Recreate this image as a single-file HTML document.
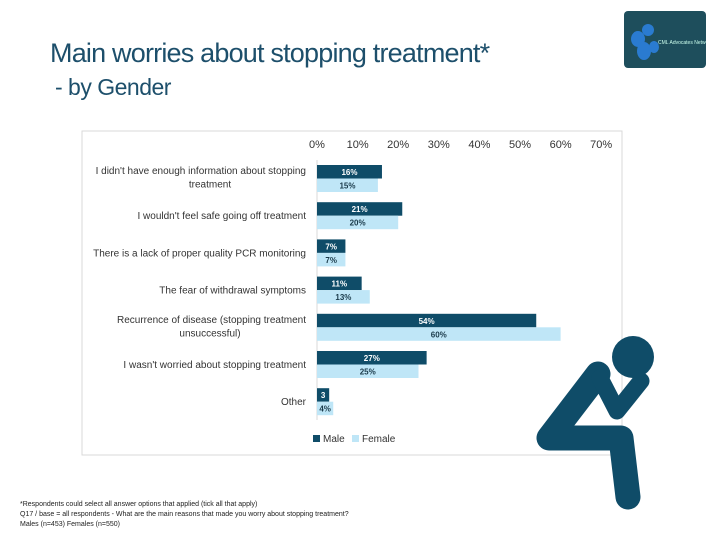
<!DOCTYPE html>
<html><head><meta charset="utf-8"><style>
body{margin:0;width:720px;height:540px;background:#fff;overflow:hidden;font-family:"Liberation Sans",sans-serif;position:relative}
.t{position:absolute;white-space:nowrap}
</style></head><body>
<div class="t" style="left:50px;top:38px;font-size:27px;color:#1d4f6b;letter-spacing:-0.8px">Main worries about stopping treatment*</div>
<div class="t" style="left:55px;top:74px;font-size:23px;color:#1d4f6b;letter-spacing:-0.5px">- by Gender</div>
<div style="position:absolute;left:624px;top:11px;width:82px;height:57px;background:#1e4e5c;border-radius:4px">
<svg width="82" height="57"><ellipse cx="14" cy="28" rx="7" ry="8" fill="#2a7bd0"/><ellipse cx="24" cy="19" rx="6" ry="6" fill="#2a7bd0"/><ellipse cx="20" cy="40" rx="7" ry="9" fill="#2a7bd0"/><ellipse cx="30" cy="36" rx="5" ry="6" fill="#2a7bd0"/><text x="34" y="33" font-size="5" fill="#cfe">CML Advocates Network</text></svg></div>
<svg id="c" width="720" height="540" style="position:absolute;left:0;top:0"></svg>
<div class="t" style="left:20px;top:500px;font-size:7px;line-height:10px;color:#222">*Respondents could select all answer options that applied (tick all that apply)<br>Q17 / base = all respondents - What are the main reasons that made you worry about stopping treatment?<br>Males (n=453) Females (n=550)</div>
<script>
const categories=[["I didn't have enough information about stopping","treatment"],["I wouldn't feel safe going off treatment"],["There is a lack of proper quality PCR monitoring"],["The fear of withdrawal symptoms"],["Recurrence of disease (stopping treatment","unsuccessful)"],["I wasn't worried about stopping treatment"],["Other"]];
const male=[16,21,7,11,54,27,3];
const female=[15,20,7,13,60,25,4];
const ticks=[0,10,20,30,40,50,60,70];
const NS="http://www.w3.org/2000/svg",svg=document.getElementById('c');
function el(t,a,p){const e=document.createElementNS(NS,t);for(const k in a)e.setAttribute(k,a[k]);(p||svg).appendChild(e);return e;}
const x=v=>317+v*4.06, rowY=i=>165+i*37.2;
const box=el('rect',{x:82,y:131,width:540,height:324,fill:'none',stroke:'#d9d9d9'});

// person icon
const fig=el('g',{fill:'none',stroke:'#0f4c68','stroke-linejoin':'round','stroke-linecap':'round'});

el('polyline',{points:'598,374 549,438 621,438 628,497','stroke-width':25},fig);
el('polyline',{points:'600,378 617,411 641,381','stroke-width':17},fig);
el('circle',{cx:633,cy:357,r:21,fill:'#0f4c68',stroke:'none'},fig);
ticks.forEach(t=>{const e=el('text',{x:x(t),y:148,'font-size':11,'text-anchor':'middle',fill:'#333'});e.textContent=t+'%';
});
el('line',{x1:317,x2:317,y1:160,y2:420,stroke:'#d9d9d9'});
categories.forEach((c,i)=>{const y=rowY(i);
 const lines=c;const cy=y+13;
 lines.forEach((l,j)=>{const ty=lines.length>1?cy-4+j*13.5:cy+4;
  const e=el('text',{x:lines.length>1&&j==1?210:306,y:ty,'font-size':10,'text-anchor':lines.length>1&&j==1?'middle':'end',fill:'#333'});e.textContent=l;
  });
 const bm=el('rect',{x:317,y:y,width:x(male[i])-317,height:13.5,fill:'#0f4c68'});
 
 const bf=el('rect',{x:317,y:y+13.5,width:x(female[i])-317,height:13.5,fill:'#bfe6f7'});
 
 const tm=el('text',{x:(317+x(male[i]))/2,y:y+10,'font-size':8,'font-weight':'bold','text-anchor':'middle',fill:'#fff'});tm.textContent=male[i]+(male[i]<5?'':'%');
 
 const tf=el('text',{x:(317+x(female[i]))/2,y:y+23.5,'font-size':8,'font-weight':'bold','text-anchor':'middle',fill:'#1a3a4a'});tf.textContent=female[i]+'%';
 
});
const lg=el('g',{});
el('rect',{x:313,y:435,width:7,height:7,fill:'#0f4c68'},lg);
let t1=el('text',{x:323,y:442,'font-size':10,fill:'#333'},lg);t1.textContent='Male';
el('rect',{x:352,y:435,width:7,height:7,fill:'#bfe6f7'},lg);
let t2=el('text',{x:362,y:442,'font-size':10,fill:'#333'},lg);t2.textContent='Female';
</script>
</body></html>
